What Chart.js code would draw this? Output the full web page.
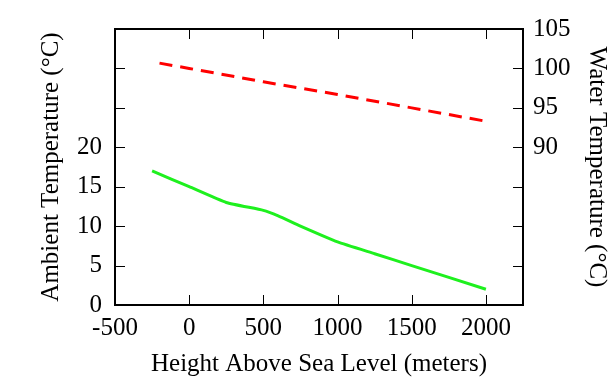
<!DOCTYPE html>
<html>
<head>
<meta charset="utf-8">
<script src="https://cdn.jsdelivr.net/npm/chart.js@4"></script>
<style>
html,body{margin:0;padding:0;background:#fff;}
#wrap{width:614px;height:381px;}
</style>
</head>
<body>
<div id="wrap"><canvas id="c" width="614" height="381"></canvas></div>
<script>
// Data
const ambientHeights = [-250, 0, 250, 500, 600, 750, 1000, 1250, 1500, 2000];
const ambientTemps   = [17, 15, 13, 12, 11.3, 10, 8, 6.5, 5, 2];
const waterHeights   = [-200, 0, 500, 1000, 1500, 2000];
const waterTemps     = [100.67, 100, 98.3, 96.7, 95.0, 93.3];
const xTickValues    = [-500, 0, 500, 1000, 1500, 2000];
const leftLabelled   = [0, 5, 10, 15, 20];
const rightLabelled  = [90, 95, 100, 105];

const toXY = (xs, ys) => xs.map((x, i) => ({x: x, y: ys[i]}));

Chart.defaults.font.family = "'Liberation Serif', 'Times New Roman', serif";
Chart.defaults.font.size = 25;
Chart.defaults.color = '#000';

const frameTicks = {
  id: 'frameTicks',
  afterDraw(chart) {
    const ctx = chart.ctx, a = chart.chartArea;
    const sx = chart.scales.x, sy = chart.scales.y, sy2 = chart.scales.y2;
    const L = 10;
    ctx.save();
    ctx.strokeStyle = '#000';
    ctx.lineWidth = 1;
    ctx.beginPath();
    sx.ticks.forEach(t => {
      const p = Math.round(sx.getPixelForValue(t.value)) + 0.5;
      if (p <= a.left + 2 || p >= a.right - 2) return;
      ctx.moveTo(p, a.bottom); ctx.lineTo(p, a.bottom - L);
      ctx.moveTo(p, a.top); ctx.lineTo(p, a.top + L);
    });
    sy.ticks.forEach(t => {
      const p = Math.round(sy.getPixelForValue(t.value)) + 0.5;
      if (p <= a.top + 2 || p >= a.bottom - 2) return;
      ctx.moveTo(a.left, p); ctx.lineTo(a.left + L, p);
    });
    sy2.ticks.forEach(t => {
      const p = Math.round(sy2.getPixelForValue(t.value)) + 0.5;
      if (p <= a.top + 2 || p >= a.bottom - 2) return;
      ctx.moveTo(a.right, p); ctx.lineTo(a.right - L, p);
    });
    ctx.stroke();
    ctx.lineWidth = 2;
    ctx.strokeRect(a.left, a.top, a.right - a.left, a.bottom - a.top);
    ctx.restore();
  }
};

new Chart(document.getElementById('c'), {
  type: 'line',
  data: {
    datasets: [
      {
        label: 'Ambient',
        data: toXY(ambientHeights, ambientTemps),
        yAxisID: 'y',
        borderColor: '#1ef01e',
        borderWidth: 3,
        pointRadius: 0,
        tension: 0.15,
        fill: false
      },
      {
        label: 'Water',
        data: toXY(waterHeights, waterTemps),
        yAxisID: 'y2',
        borderColor: '#ff0000',
        borderWidth: 3,
        borderDash: [13, 8],
        borderCapStyle: 'butt',
        pointRadius: 0,
        tension: 0,
        fill: false
      }
    ]
  },
  options: {
    responsive: false,
    animation: false,
    layout: {padding: {top: 29, left: 0, right: 0, bottom: 0}},
    plugins: {legend: {display: false}, tooltip: {enabled: false}},
    scales: {
      x: {
        type: 'linear',
        min: -500, max: 2250,
        grid: {display: false, drawTicks: false},
        border: {display: false},
        afterBuildTicks: s => { s.ticks = xTickValues.map(v => ({value: v})); },
        ticks: {
          padding: 8, maxRotation: 0, autoSkip: false,
          callback: v => String(v)
        },
        title: {display: true, text: 'Height Above Sea Level (meters)', padding: {top: 0, bottom: 2}},
        afterFit: s => { s.height = 76; }
      },
      y: {
        type: 'linear', position: 'left',
        min: 0, max: 35,
        grid: {display: false, drawTicks: false},
        border: {display: false},
        ticks: {
          stepSize: 5, padding: 13, autoSkip: false,
          callback: v => leftLabelled.includes(v) ? String(v) : ''
        },
        title: {display: true, text: 'Ambient Temperature (°C)', padding: {top: 36, bottom: 0}},
        afterFit: s => { s.width = 115; }
      },
      y2: {
        type: 'linear', position: 'right',
        min: 70, max: 105,
        grid: {display: false, drawTicks: false},
        border: {display: false},
        ticks: {
          stepSize: 5, padding: 10, autoSkip: false,
          callback: v => rightLabelled.includes(v) ? String(v) : ''
        },
        title: {display: true, text: 'Water Temperature (°C)', padding: {top: 2, bottom: 0}},
        afterFit: s => { s.width = 91; }
      }
    }
  },
  plugins: [frameTicks]
});
</script>
</body>
</html>
